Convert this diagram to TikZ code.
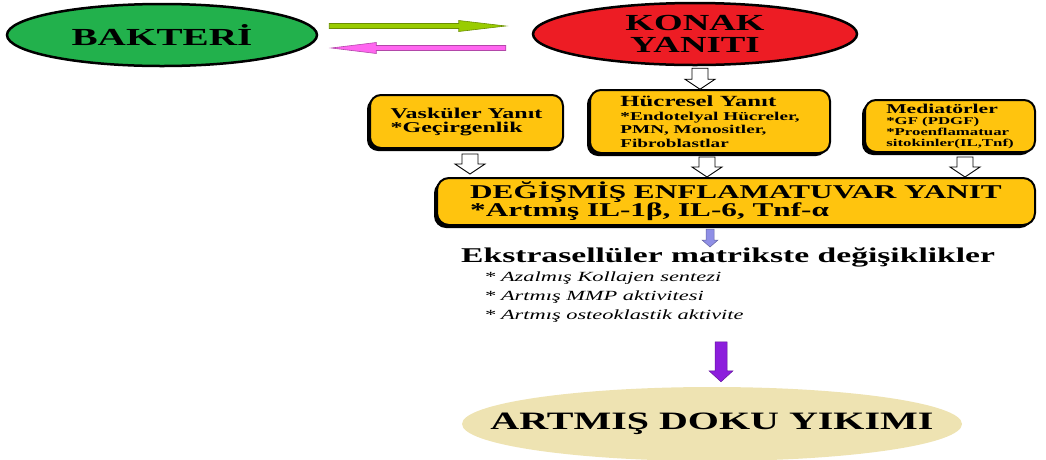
\documentclass[tikz,border=0pt]{standalone}
\usepackage{fontspec}
\setmainfont{Liberation Serif}[FakeStretch=1.6]
\usetikzlibrary{shapes.geometric,calc,shadows}
\definecolor{bgreen}{RGB}{34,177,76}
\definecolor{kred}{RGB}{237,28,36}
\definecolor{gold}{RGB}{255,196,14}
\definecolor{beige}{RGB}{238,227,178}
\definecolor{oliveg}{RGB}{153,204,0}
\definecolor{pinkm}{RGB}{255,102,240}
\definecolor{lav}{RGB}{143,143,230}
\definecolor{purp}{RGB}{140,30,220}
\tikzset{pics/darrow/.style n args={4}{code={\path[pic actions] (-#1/2,0) -- (#1/2,0) -- (#1/2,#3-#4) -- (#2/2,#3-#4) -- (0,#3) -- (-#2/2,#3-#4) -- (-#1/2,#3-#4) -- cycle;}}}
\begin{document}
\begin{tikzpicture}[x=1pt,y=-1pt,
  oval/.style={ellipse, draw=black, line width=2.5pt, inner sep=0pt, align=center},
  ybox/.style={rectangle, rounded corners=11pt, draw=black, line width=2pt, fill=gold, inner sep=0pt, align=left,
     drop shadow={shadow xshift=-3pt, shadow yshift=-3pt, fill=black, opacity=1}},
  hollow/.style={draw=black, line width=0.9pt, fill=white}]
\useasboundingbox (0,0) rectangle (1046,459);

\node[oval, fill=bgreen, minimum width=310pt, minimum height=62pt, font=\fontsize{24.5}{24}\selectfont\bfseries] (bak) at (162,35) {BAKTERİ};
\node[oval, fill=kred, minimum width=324pt, minimum height=62pt, font=\fontsize{23}{22}\selectfont\bfseries] (konak) at (695,34) {KONAK\\YANITI};

\node[ybox, minimum width=193pt, minimum height=53pt, font=\fontsize{15}{14}\selectfont\bfseries] (vask) at (466.5,121.5) {Vasküler Yanıt\\{}*Geçirgenlik};
\node[ybox, minimum width=240pt, minimum height=63pt, font=\fontsize{12}{13.5}\selectfont\bfseries] (huc) at (710,121.5) {{\fontsize{15.5}{15}\selectfont Hücresel Yanıt}\\{}*Endotelyal Hücreler,\\PMN, Monositler,\\Fibroblastlar};
\node[ybox, minimum width=170pt, minimum height=52pt, font=\fontsize{10.5}{11}\selectfont\bfseries] (med) at (950,126) {{\fontsize{13.5}{13}\selectfont Mediatörler}\\{}*GF (PDGF)\\{}*Proenflamatuar\\sitokinler(IL,Tnf)};
\node[ybox, rounded corners=12pt, minimum width=598pt, minimum height=47pt, font=\fontsize{19.5}{18}\selectfont\bfseries] (deg) at (736,201.5) {DEĞİŞMİŞ ENFLAMATUVAR YANIT\\{}*Artmış IL-1β, IL-6, Tnf-α};

\node[anchor=north west, align=left, inner sep=0pt, font=\fontsize{14}{19}\selectfont\itshape] (ecm) at (461,247) {{\fontsize{21}{20}\selectfont\bfseries\upshape Ekstrasellüler matrikste değişiklikler}\\\hspace*{23pt}* Azalmış Kollajen sentezi\\\hspace*{23pt}* Artmış MMP aktivitesi\\\hspace*{23pt}* Artmış osteoklastik aktivite};

\node[ellipse, fill=beige, inner ysep=0pt, inner xsep=-45pt, minimum width=500pt, minimum height=74pt, font=\fontsize{25}{24}\selectfont\bfseries] (art) at (712,424) {ARTMIŞ DOKU YIKIMI};

% horizontal arrows
\coordinate (g1) at ($(bak.east)+(11,-9)$);
\coordinate (g2) at ($(konak.west)+(-26,-8)$);
\coordinate (p1) at ($(konak.west)+(-26,14)$);
\coordinate (p2) at ($(bak.east)+(13,13)$);
\path[fill=oliveg, draw=oliveg!70!black, line width=0.6pt] ($(g1)+(0,-2.5)$) -- ($(g2)+(-47,-2.5)$) -- ($(g2)+(-47,-5.5)$) -- (g2) -- ($(g2)+(-47,5.5)$) -- ($(g2)+(-47,2.5)$) -- ($(g1)+(0,2.5)$) -- cycle;
\path[fill=pinkm, draw=pinkm!70!black, line width=0.6pt] ($(p1)+(0,-2.5)$) -- ($(p2)+(45,-2.5)$) -- ($(p2)+(45,-5.5)$) -- (p2) -- ($(p2)+(45,5.5)$) -- ($(p2)+(45,2.5)$) -- ($(p1)+(0,2.5)$) -- cycle;

% down arrows
\pic[hollow] at ($(konak.south)+(5,2)$) {darrow={16}{30}{21}{10}};
\pic[hollow] at ($(vask.south)+(3.5,5)$) {darrow={16}{30}{20}{10}};
\pic[hollow] at ($(huc.south)+(-3,3)$) {darrow={16}{30}{20}{10}};
\pic[hollow] at ($(med.south)+(15,4)$) {darrow={16}{30}{20}{10}};
\pic[fill=lav, draw=lav!70!black, line width=0.5pt] at ($(deg.south)+(-26,3)$) {darrow={8}{16}{18}{7}};
\pic[fill=purp, draw=purp!70!black, line width=0.5pt] at ($(art.north)+(9,-45)$) {darrow={12}{24}{40}{11}};
\end{tikzpicture}
\end{document}
